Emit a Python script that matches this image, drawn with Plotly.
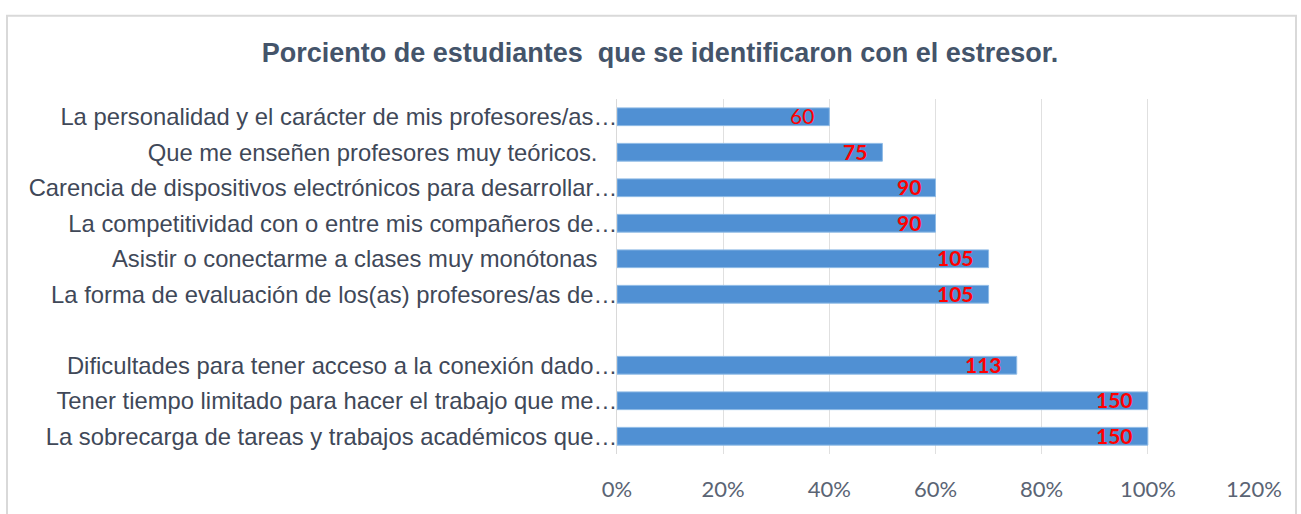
import plotly.graph_objects as go

categories = [
    "La sobrecarga de tareas y trabajos académicos que…",
    "Tener tiempo limitado para hacer el trabajo que me…",
    "Dificultades para tener acceso a la conexión dado…",
    " ",
    "La forma de evaluación de los(as) profesores/as de…",
    "Asistir o conectarme a clases muy monótonas ",
    "La competitividad con o entre mis compañeros de…",
    "Carencia de dispositivos electrónicos para desarrollar…",
    "Que me enseñen profesores muy teóricos.",
    "La personalidad y el carácter de mis profesores/as…",
]
percent = [100, 100, 75.3, None, 70, 70, 60, 60, 50, 40]
counts = ["150", "150", "113", "", "105", "105", "90", "90", "75", "60"]
bold = [True, True, True, False, True, True, True, True, True, False]

x_ticks = [0, 20, 40, 60, 80, 100, 120]
x_tick_labels = ["0%", "20%", "40%", "60%", "80%", "100%", "120%"]

W, H = 1301, 514
L, R, T, B = 617, 1254, 99, 457

# full labels end before the axis line with a small gap (like the original)
tick_text = [c if c.endswith("…") or not c.strip() else c.rstrip() + "\u00a0\u00a0\u00a0" for c in categories]

fig = go.Figure()
fig.add_trace(go.Bar(
    y=categories, x=percent, orientation="h",
    marker=dict(color="#5090d3", line=dict(color="#8fbbe6", width=1)),
    width=0.5, hoverinfo="skip",
))

for c, p, t, b in zip(categories, percent, counts, bold):
    if p is None:
        continue
    fig.add_annotation(
        x=p, y=c, text=f"<b>{t}</b>" if b else t, showarrow=False,
        xanchor="right", xshift=-13, yshift=1,
        font=dict(family="Lato, Open Sans, sans-serif", size=21, color="#ff0000"),
    )

pw, ph = R - L, B - T
fig.add_shape(type="rect", xref="paper", yref="paper",
              x0=(7 - L) / pw, x1=(1296 - L) / pw,
              y0=(B - 520) / ph, y1=(B - 15) / ph,
              line=dict(color="#d9d9d9", width=2), fillcolor="rgba(0,0,0,0)", layer="below")

fig.update_layout(
    width=W, height=H,
    margin=dict(l=L, r=W - R, t=T, b=H - B),
    paper_bgcolor="white", plot_bgcolor="white",
    showlegend=False,
    title=dict(text="<b>Porciento de estudiantes\u00a0 que se identificaron con el estresor.</b>",
               x=660 / W, xanchor="center", y=1 - 53 / H, yanchor="middle",
               font=dict(family="Liberation Sans, Arial, sans-serif", size=27, color="#44546a")),
    xaxis=dict(range=[0, 120], tickvals=x_ticks, ticktext=x_tick_labels,
               showgrid=True, gridcolor="#e0e0e0", gridwidth=1, zeroline=False,
               showline=False, ticks="", ticklabelstandoff=20,
               tickfont=dict(family="Lato, Open Sans, sans-serif", size=22, color="#5a6474"),
               fixedrange=True),
    yaxis=dict(categoryorder="array", categoryarray=categories,
               tickvals=categories, ticktext=tick_text,
               showline=True, linecolor="#d9d9d9", linewidth=1,
               showgrid=False, ticks="", ticklabelstandoff=-6,
               tickfont=dict(family="Liberation Sans, Arial, sans-serif", size=23.8, color="#404858"),
               fixedrange=True),
)

fig.write_html("out.html", config={"displayModeBar": False},
               post_script="document.body.style.margin='0';document.body.style.overflow='hidden';")
